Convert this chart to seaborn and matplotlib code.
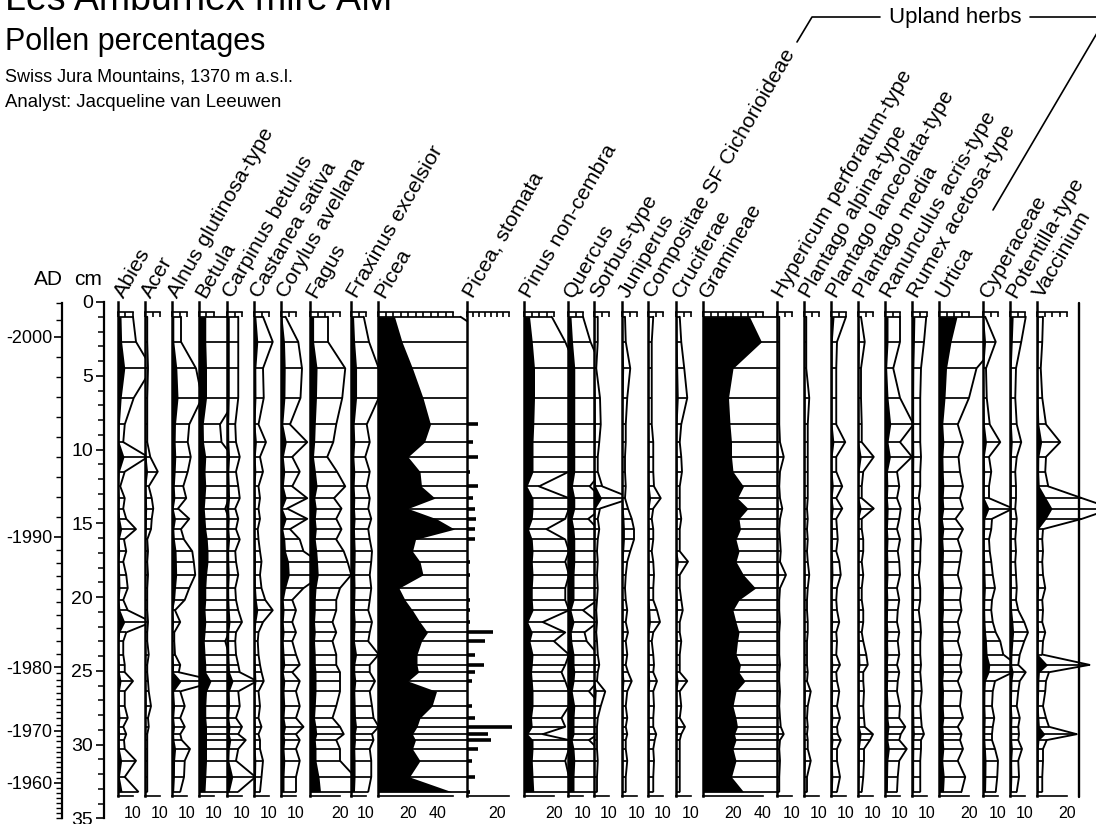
import numpy as np
import matplotlib
matplotlib.use("Agg")
import matplotlib.pyplot as plt
import seaborn as sns

# -----------------------------------
# Data (percentages per sample depth)
# -----------------------------------
depth = [1.0, 2.7, 4.5, 6.5, 8.3, 9.5, 10.5, 11.5, 12.5, 13.3,
         14.0, 14.7, 15.4, 16.1, 16.9, 17.6, 18.5, 19.4, 20.2, 20.9,
         21.7, 22.4, 23.0, 23.9, 24.6, 25.1, 25.7, 26.4, 27.4, 28.2,
         28.8, 29.3, 29.7, 30.3, 31.1, 32.2, 33.2]

abies = [2.0, 2.4, 4.5, 2.1, 0.9, 0.7, 4.0, 0.9, 0.3, 0.9,
         0.7, 1.1, 2.4, 0.8, 1.1, 0.7, 1.1, 1.3, 0.7, 1.3,
         4.5, 1.1, 0.7, 0.7, 0.9, 0.9, 2.0, 0.9, 0.9, 1.3,
         0.7, 1.1, 0.8, 0.9, 2.4, 0.9, 2.7]
acer = [0.3, 0.3, 0.4, 0.3, 0.3, 0.3, 0.7, 1.7, 0.5, 0.9,
        1.1, 0.9, 0.8, 0.3, 0.4, 0.3, 0.4, 0.3, 0.3, 0.3,
        0.4, 0.3, 0.3, 0.5, 0.3, 0.3, 0.4, 0.5, 0.8, 0.4,
        0.5, 0.3, 0.3, 0.3, 0.3, 0.3, 0.3]
alnus = [1.2, 1.2, 3.2, 4.0, 2.3, 2.1, 2.5, 2.1, 1.5, 1.9,
         0.8, 2.3, 1.2, 1.6, 2.7, 2.9, 3.1, 2.3, 1.7, 0.4,
         1.1, 0.3, 0.3, 0.4, 1.1, 0.9, 6.0, 1.1, 1.7, 1.1,
         1.7, 1.1, 1.3, 2.4, 1.7, 1.6, 1.1]
betula = [4.5, 4.5, 5.0, 5.0, 2.8, 3.0, 4.5, 4.0, 4.5, 4.0,
          3.5, 4.0, 4.5, 5.5, 6.0, 6.0, 5.0, 4.5, 4.5, 4.0,
          4.5, 4.0, 3.5, 4.0, 4.5, 4.5, 8.0, 5.0, 4.5, 4.5,
          5.0, 5.0, 5.0, 5.0, 5.0, 4.5, 4.0]
carpinus = [1.5, 1.5, 1.5, 1.5, 1.1, 1.2, 1.7, 1.2, 1.5, 1.7,
            1.1, 1.5, 1.2, 1.7, 1.1, 1.2, 1.5, 1.1, 1.2, 1.5,
            2.0, 1.2, 1.1, 1.2, 1.5, 1.7, 4.0, 1.5, 1.7, 1.2,
            2.0, 1.5, 2.5, 1.5, 1.2, 3.8, 1.5]
castanea = [1.2, 2.5, 1.2, 1.3, 0.6, 1.6, 0.8, 1.2, 0.6, 0.8,
            0.6, 0.8, 0.5, 0.6, 0.8, 1.0, 0.8, 1.0, 1.5, 2.5,
            1.2, 0.6, 0.5, 0.6, 0.8, 1.0, 1.3, 0.6, 0.8, 0.6,
            1.0, 0.6, 0.8, 0.8, 1.2, 1.0, 0.8]
corylus = [0.6, 2.3, 2.8, 2.6, 1.2, 3.5, 1.5, 2.5, 1.5, 3.5,
           0.8, 3.5, 1.2, 2.5, 3.0, 5.0, 5.5, 3.0, 1.5, 2.0,
           1.5, 2.0, 1.5, 2.0, 2.5, 1.5, 2.5, 2.0, 2.5, 2.0,
           3.0, 2.0, 2.5, 2.0, 2.5, 2.0, 2.0]
fagus = [2.4, 2.4, 4.7, 4.3, 3.5, 3.1, 2.3, 3.6, 4.7, 3.2,
         4.2, 3.5, 4.2, 3.5, 4.5, 5.0, 5.5, 4.0, 3.5, 3.5,
         3.0, 3.5, 3.0, 3.5, 3.5, 4.0, 4.0, 4.0, 3.5, 3.0,
         4.0, 4.5, 3.5, 4.0, 4.0, 6.0, 7.0]
fraxinus = [1.7, 2.4, 3.7, 3.7, 2.1, 2.5, 1.9, 2.5, 2.1, 2.5,
            2.3, 2.7, 2.3, 2.5, 2.8, 2.7, 2.5, 2.7, 2.5, 2.3,
            2.8, 2.5, 2.3, 3.7, 2.5, 2.5, 3.2, 2.5, 2.8, 3.0,
            3.7, 2.8, 3.0, 2.5, 2.7, 2.7, 2.3]
picea = [11, 16, 23, 30, 35, 31, 20, 28, 29, 38,
         20, 39, 51, 25, 23, 28, 30, 14, 18, 23,
         28, 33, 29, 26, 26, 27, 20, 39, 36, 28,
         26, 23, 25, 23, 28, 21, 49]
picea_stomata = [0, 0, 0, 0, 7, 4, 7, 2, 7, 4,
                 5, 6, 5, 5, 0, 2, 2, 0, 2, 2,
                 2, 17, 12, 5, 11, 5, 3, 0, 3, 5,
                 30, 14, 16, 7, 3, 5, 2]
pinus = [3.7, 5.5, 7.0, 7.0, 6.5, 6.0, 6.0, 6.0, 2.0, 6.0,
         6.0, 5.5, 3.0, 5.5, 6.0, 5.5, 6.0, 5.5, 5.5, 6.0,
         2.5, 5.5, 4.0, 6.0, 5.5, 5.0, 5.5, 6.0, 6.0, 5.0,
         5.5, 2.5, 6.0, 6.0, 5.5, 6.0, 6.5]
quercus = [2.0, 3.0, 4.5, 4.5, 4.5, 4.5, 4.5, 4.5, 2.9, 4.5,
           4.5, 2.7, 4.0, 4.5, 4.5, 4.5, 4.0, 4.0, 4.0, 2.0,
           4.0, 2.2, 2.5, 4.0, 4.0, 4.5, 4.0, 2.8, 4.5, 4.0,
           4.0, 4.0, 2.8, 4.0, 4.5, 4.0, 4.0]
sorbus = [0.5, 0.5, 0.3, 0.8, 0.9, 0.7, 0.5, 0.5, 1.1, 5.0,
          0.8, 0.5, 0.7, 0.5, 0.4, 0.5, 0.4, 0.5, 0.4, 0.3,
          0.4, 0.3, 0.4, 0.5, 0.7, 0.5, 0.4, 1.5, 0.9, 0.5,
          0.4, 0.4, 0.4, 0.4, 0.5, 0.4, 0.4]
juniperus = [0.4, 0.5, 1.1, 0.7, 0.5, 0.5, 0.4, 0.4, 0.5, 0.4,
             0.8, 1.3, 1.6, 1.6, 1.1, 0.7, 0.5, 0.4, 0.5, 0.7,
             0.5, 0.8, 0.5, 0.7, 0.5, 0.8, 1.3, 0.7, 0.5, 0.7,
             0.5, 0.7, 0.5, 0.5, 0.7, 0.5, 0.5]
compositae = [0.7, 0.5, 0.5, 0.5, 0.5, 0.7, 0.7, 0.7, 0.8, 1.7,
              0.7, 0.5, 0.7, 0.7, 0.5, 0.7, 0.8, 0.7, 0.7, 1.2,
              1.6, 0.7, 0.5, 0.7, 0.8, 0.7, 1.2, 0.7, 0.8, 0.7,
              0.7, 1.1, 0.9, 0.7, 0.8, 0.7, 0.7]
cruciferae = [0.5, 0.7, 1.1, 1.5, 0.7, 0.5, 0.7, 0.8, 0.5, 0.5,
              0.5, 0.7, 0.5, 0.5, 0.5, 1.6, 0.5, 0.5, 0.7, 0.9,
              0.5, 0.5, 0.7, 0.5, 0.5, 0.5, 1.5, 0.5, 0.7, 0.5,
              1.2, 0.7, 0.5, 0.5, 0.5, 0.5, 0.5]
gramineae = [31, 39, 20, 17, 18, 19, 19, 20, 27, 23,
             30, 24, 25, 22, 24, 22, 27, 35, 24, 20,
             22, 24, 23, 22, 25, 24, 28, 22, 20, 22,
             23, 21, 22, 20, 22, 19, 27]
hypericum = [0.3, 0.3, 0.3, 0.3, 0.3, 0.4, 0.9, 0.4, 0.3, 0.4,
             0.7, 0.4, 0.3, 0.4, 0.5, 0.4, 1.2, 0.4, 0.3, 0.3,
             0.4, 0.3, 0.3, 0.3, 0.4, 0.3, 0.3, 0.4, 0.3, 0.4,
             0.5, 0.9, 0.4, 0.3, 0.4, 0.3, 0.3]
plantago_alpina = [0.3, 0.3, 0.3, 0.7, 0.5, 0.5, 0.5, 0.5, 0.5, 0.5,
                   0.4, 0.5, 0.4, 0.5, 0.4, 0.5, 0.7, 0.5, 0.4, 0.4,
                   0.5, 0.5, 0.4, 0.4, 0.4, 0.5, 0.4, 0.9, 0.5, 0.4,
                   0.5, 0.4, 0.5, 0.5, 0.9, 0.4, 0.4]
plantago_lanceolata = [2.0, 0.8, 0.7, 0.7, 0.7, 1.9, 0.7, 0.7, 1.5, 0.7,
                       1.5, 0.7, 0.8, 0.9, 0.7, 1.1, 1.3, 0.8, 0.7, 0.8,
                       1.1, 0.7, 0.8, 0.7, 1.2, 0.7, 0.8, 1.1, 0.8, 1.2,
                       0.8, 0.9, 1.3, 0.8, 0.8, 1.2, 0.8]
plantago_media = [0.4, 0.9, 0.4, 0.4, 0.5, 0.5, 2.1, 0.7, 0.5, 0.5,
                  2.1, 0.5, 0.5, 0.7, 0.7, 0.5, 0.7, 0.5, 0.5, 0.7,
                  0.7, 0.5, 0.7, 1.1, 1.3, 0.7, 0.7, 0.8, 0.7, 0.8,
                  0.9, 2.0, 1.6, 0.8, 0.8, 0.7, 0.5]
ranunculus = [2.0, 2.0, 1.1, 2.0, 3.8, 2.0, 3.6, 1.6, 1.9, 1.6,
              2.1, 1.9, 1.6, 2.0, 1.7, 1.9, 2.0, 1.6, 1.9, 1.7,
              1.6, 1.9, 1.7, 1.9, 1.6, 1.9, 1.7, 1.6, 2.0, 1.9,
              2.7, 2.1, 1.9, 2.9, 1.9, 1.7, 1.6]
rumex = [1.9, 1.6, 1.2, 1.1, 1.1, 1.1, 1.2, 1.1, 1.1, 0.9,
         1.1, 0.9, 1.1, 1.2, 1.1, 1.1, 0.9, 1.1, 1.1, 0.9,
         1.1, 1.2, 1.1, 1.1, 1.2, 1.1, 1.2, 1.3, 1.1, 1.2,
         1.3, 1.6, 1.2, 1.2, 1.1, 1.1, 1.1]
urtica = [12, 8, 5, 4, 2.5, 3.2, 2.6, 2.8, 3.2, 2.8,
          3.2, 2.2, 3.2, 2.5, 3.0, 2.8, 2.5, 3.0, 2.8, 3.0,
          2.5, 2.8, 2.5, 3.0, 2.8, 3.0, 2.5, 3.0, 2.8, 3.2,
          2.5, 3.0, 2.8, 3.2, 2.5, 3.5, 3.0]
cyperaceae = [0.3, 1.7, 0.4, 0.5, 0.9, 2.3, 0.8, 1.1, 0.8, 0.8,
              4.0, 1.2, 1.1, 0.8, 0.9, 1.1, 1.3, 1.6, 1.2, 1.1,
              1.3, 1.7, 2.3, 2.7, 4.5, 4.0, 1.6, 1.3, 1.2, 1.5,
              1.3, 1.2, 1.2, 1.6, 2.0, 1.9, 1.7]
potentilla = [2.1, 1.5, 0.8, 0.7, 0.9, 1.5, 0.9, 0.7, 0.8, 0.8,
              0.7, 0.9, 0.8, 0.7, 0.8, 0.7, 0.8, 0.9, 0.8, 1.1,
              1.9, 2.4, 1.9, 1.3, 1.1, 2.1, 1.3, 1.1, 0.9, 1.3,
              1.1, 1.2, 1.1, 1.6, 1.1, 1.2, 0.9]
vaccinium = [0.8, 0.7, 0.5, 0.7, 1.2, 3.1, 1.2, 1.1, 1.5, 6.0,
             10.0, 6.0, 0.8, 0.7, 0.8, 0.7, 0.8, 1.1, 0.7, 0.8,
             0.7, 1.1, 0.8, 0.7, 7.0, 1.6, 1.2, 1.1, 0.8, 1.2,
             1.6, 5.3, 1.3, 0.8, 0.8, 0.7, 0.7]

# age-depth anchors for the AD scale
ad_years = [2002, 2000, 1990, 1980, 1970, 1960, 1953]
ad_depths = [0.1, 2.37, 15.93, 24.75, 29.08, 32.6, 35.0]
ad_labels = [2000, 1990, 1980, 1970, 1960]

# -----------------------------------
# Layout (pixels) and style
# -----------------------------------
W, H = 1096, 824
Y0, PX_CM = 302, 14.75      # pixel row of 0 cm, pixels per cm
D_BOTTOM = 33.5             # lower end of the panels (cm)
PX_PCT = 1.5                # pixels per percent
EXAG = 5                    # exaggeration of the outline curve

# label, values, left px, right px, ruler max, labelled ticks
panels = [
    ("Abies", abies, 118, 145, 10, [10]),
    ("Acer", acer, 145, 172, 10, [10]),
    ("Alnus glutinosa-type", alnus, 172, 199, 10, [10]),
    ("Betula", betula, 199, 227, 10, [10]),
    ("Carpinus betulus", carpinus, 227, 254, 10, [10]),
    ("Castanea sativa", castanea, 254, 281, 10, [10]),
    ("Corylus avellana", corylus, 281, 310, 10, [10]),
    ("Fagus", fagus, 310, 351, 20, [20]),
    ("Fraxinus excelsior", fraxinus, 351, 378, 10, [10]),
    ("Picea", picea, 378, 467, 50, [20, 40]),
    ("Picea, stomata", picea_stomata, 467, 524, 28, [20]),
    ("Pinus non-cembra", pinus, 524, 568, 20, [20]),
    ("Quercus", quercus, 568, 594, 10, [10]),
    ("Sorbus-type", sorbus, 594, 622, 10, [10]),
    ("Juniperus", juniperus, 622, 648, 10, [10]),
    ("Compositae SF Cichorioideae", compositae, 648, 676, 10, [10]),
    ("Cruciferae", cruciferae, 676, 703, 10, [10]),
    ("Gramineae", gramineae, 703, 777, 40, [20, 40]),
    ("Hypericum perforatum-type", hypericum, 777, 804, 10, [10]),
    ("Plantago alpina-type", plantago_alpina, 804, 831, 10, [10]),
    ("Plantago lanceolata-type", plantago_lanceolata, 831, 858, 10, [10]),
    ("Plantago media", plantago_media, 858, 885, 10, [10]),
    ("Ranunculus acris-type", ranunculus, 885, 912, 10, [10]),
    ("Rumex acetosa-type", rumex, 912, 939, 10, [10]),
    ("Urtica", urtica, 939, 983, 20, [20]),
    ("Cyperaceae", cyperaceae, 983, 1010, 10, [10]),
    ("Potentilla-type", potentilla, 1010, 1037, 10, [10]),
    ("Vaccinium", vaccinium, 1037, 1096, 20, [20]),
]

sns.set_theme(style="white")
plt.rcParams["font.family"] = ["Liberation Sans", "DejaVu Sans"]
plt.rcParams["axes.edgecolor"] = "black"
plt.rcParams["xtick.color"] = "black"
plt.rcParams["ytick.color"] = "black"
plt.rcParams["text.color"] = "black"

fig = plt.figure(figsize=(W / 100, H / 100), dpi=100)


def px_axes(x0, x1, d0, d1):
    y_top = Y0 + d0 * PX_CM
    y_bot = Y0 + d1 * PX_CM
    ax = fig.add_axes([x0 / W, 1 - y_bot / H, (x1 - x0) / W, (y_bot - y_top) / H])
    ax.patch.set_alpha(0)
    return ax


def fig_text(x, y, s, **kw):
    fig.text(x / W, 1 - y / H, s, **kw)


# -----------------------------------
# Taxon panels
# -----------------------------------
for name, vals, x0, x1, rmax, tlabels in panels:
    ax = px_axes(x0, x1, 0, D_BOTTOM)
    ax.set_xlim(0, (x1 - x0) / PX_PCT)
    ax.set_ylim(D_BOTTOM, 0)
    v = np.asarray(vals, dtype=float)

    if name == "Picea, stomata":
        step = 4
        nz = v > 0
        ax.hlines(np.asarray(depth)[nz], 0, v[nz], color="black", lw=2.6)
    else:
        step = 5
        ex = v * EXAG
        ax.fill_betweenx(depth, 0, v, color="black", lw=0)
        ax.hlines(depth, 0, ex, color="black", lw=1.25)
        sns.lineplot(x=ex, y=depth, orient="y", sort=False, estimator=None,
                     color="black", lw=1.35, ax=ax, legend=False)

    ticks = np.arange(0, rmax + 0.1, step)
    ax.set_xticks(ticks)
    ax.set_xticklabels([str(int(t)) if int(t) in tlabels else "" for t in ticks])
    ax.set_yticks([])
    ax.set_xlabel("")
    ax.set_ylabel("")
    ax.tick_params(axis="x", direction="in", length=3.5, width=1.2,
                   top=True, labeltop=False, labelsize=11.5, pad=7)

    ax.spines["right"].set_visible(False)
    ax.spines["left"].set_linewidth(1.8)
    ax.spines["top"].set_position(("data", 0.7))
    ax.spines["top"].set_bounds(0, rmax)
    ax.spines["bottom"].set_bounds(0, rmax)
    ax.spines["top"].set_linewidth(1.2)
    ax.spines["bottom"].set_linewidth(1.2)

    fig_text(x0 + 6, 299, name, rotation=60, rotation_mode="anchor",
             ha="left", va="baseline", fontsize=15.4)

# -----------------------------------
# Depth axis (cm)
# -----------------------------------
axd = px_axes(104, 106, 0, 35)
axd.set_ylim(35, 0)
axd.set_xticks([])
axd.set_yticks(np.arange(0, 36, 5))
axd.set_yticks(np.arange(0, 36, 1), minor=True)
axd.tick_params(axis="y", which="major", direction="out", length=6, width=1.2,
                labelsize=14, pad=2, left=True)
axd.tick_params(axis="y", which="minor", direction="out", length=4, width=1.1, left=True)
for s in ["right", "top", "bottom"]:
    axd.spines[s].set_visible(False)
axd.spines["left"].set_linewidth(1.6)

# -----------------------------------
# AD axis
# -----------------------------------
axa = px_axes(62, 64, 0, 35)
axa.set_ylim(35, 0)
axa.set_xticks([])
yr_rev = ad_years[::-1]
dp_rev = ad_depths[::-1]
minor_years = np.arange(1953, 2003)
axa.set_yticks(np.interp(minor_years, yr_rev, dp_rev), minor=True)
axa.set_yticks(np.interp(ad_labels, yr_rev, dp_rev))
axa.set_yticklabels([f"-{y}" for y in ad_labels])
axa.tick_params(axis="y", which="major", direction="out", length=6, width=1.2,
                labelsize=13, pad=1, left=True)
axa.tick_params(axis="y", which="minor", direction="out", length=4, width=1.0, left=True)
for s in ["right", "top", "bottom"]:
    axa.spines[s].set_visible(False)
axa.spines["left"].set_linewidth(1.6)
axa.spines["left"].set_bounds(ad_depths[0], ad_depths[-1])

# -----------------------------------
# Overlay: group bracket and right border
# -----------------------------------
ov = fig.add_axes([0, 0, 1, 1])
ov.set_xlim(0, W)
ov.set_ylim(H, 0)
ov.axis("off")
ov.patch.set_alpha(0)
ov.plot([797, 812, 880], [42, 17, 17], color="black", lw=1.2)
ov.plot([1030, 1110], [17, 17], color="black", lw=1.2)
ov.plot([993, 1110], [210, 11], color="black", lw=1.2)
ov.plot([1079, 1079], [303, 797], color="black", lw=1.7)
ov.text(955, 17, "Upland herbs", ha="center", va="center", fontsize=16)

# -----------------------------------
# Titles
# -----------------------------------
fig_text(5, 10, "Les Amburnex mire AM", fontsize=27, va="baseline")
fig_text(5, 50, "Pollen percentages", fontsize=22, va="baseline")
fig_text(5, 82, "Swiss Jura Mountains, 1370 m a.s.l.", fontsize=13, va="baseline")
fig_text(5, 107, "Analyst: Jacqueline van Leeuwen", fontsize=13.4, va="baseline")
fig_text(48, 285, "AD", fontsize=15, ha="center", va="baseline")
fig_text(88, 285, "cm", fontsize=15, ha="center", va="baseline")

fig.savefig("out.png", dpi=100)
plt.close(fig)
